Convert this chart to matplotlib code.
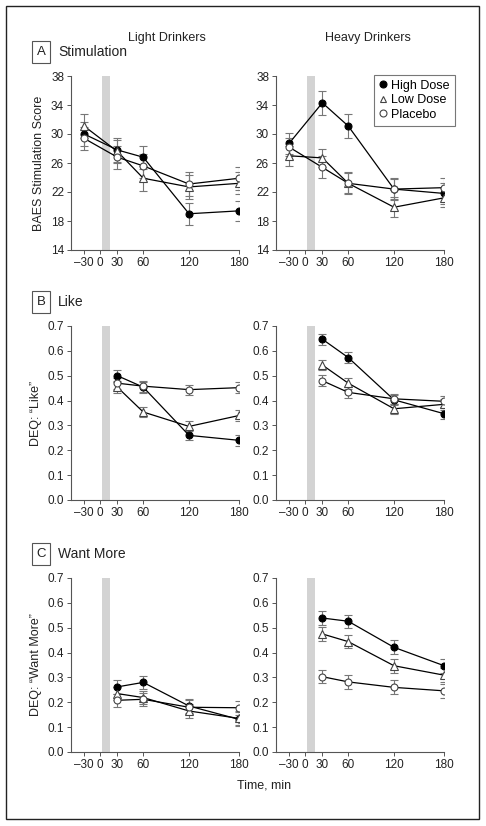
import numpy as np
import matplotlib
matplotlib.use('Agg')
import matplotlib.pyplot as plt
from matplotlib.patches import Rectangle

plt.rcParams['font.family'] = ['Liberation Sans', 'DejaVu Sans']

times = [-30, 30, 60, 120, 180]
groups = ['High Dose', 'Low Dose', 'Placebo']
drink_window = [3, 17]

# Stimulation (BAES), times -30..180
stim_light = {
    'High Dose': [30.0, 27.8, 26.8, 19.0, 19.4],
    'Low Dose': [31.1, 27.6, 23.9, 22.7, 23.2],
    'Placebo': [29.4, 26.8, 25.6, 23.1, 23.9],
}
stim_light_err = {
    'High Dose': [1.6, 1.7, 1.6, 1.5, 1.4],
    'Low Dose': [1.7, 1.6, 1.7, 1.6, 1.5],
    'Placebo': [1.6, 1.6, 1.6, 1.6, 1.6],
}
stim_heavy = {
    'High Dose': [28.7, 34.3, 31.1, 22.4, 21.8],
    'Low Dose': [27.0, 26.7, 23.2, 19.9, 21.2],
    'Placebo': [28.2, 25.4, 23.2, 22.4, 22.6],
}
stim_heavy_err = {
    'High Dose': [1.5, 1.7, 1.6, 1.5, 1.4],
    'Low Dose': [1.4, 1.3, 1.5, 1.4, 1.3],
    'Placebo': [1.3, 1.5, 1.4, 1.4, 1.4],
}

# DEQ Like, times 30..180
like_light = {
    'High Dose': [0.500, 0.454, 0.260, 0.240],
    'Low Dose': [0.454, 0.354, 0.296, 0.340],
    'Placebo': [0.470, 0.458, 0.444, 0.452],
}
like_heavy = {
    'High Dose': [0.647, 0.573, 0.403, 0.347],
    'Low Dose': [0.543, 0.470, 0.367, 0.385],
    'Placebo': [0.480, 0.433, 0.407, 0.397],
}
like_err = [0.022, 0.022, 0.020, 0.022]

# DEQ Want More, times 30..180
want_light = {
    'High Dose': [0.262, 0.280, 0.185, 0.131],
    'Low Dose': [0.235, 0.219, 0.165, 0.135],
    'Placebo': [0.208, 0.212, 0.180, 0.178],
}
want_heavy = {
    'High Dose': [0.539, 0.526, 0.421, 0.347],
    'Low Dose': [0.475, 0.444, 0.347, 0.309],
    'Placebo': [0.303, 0.282, 0.260, 0.246],
}
want_err = [0.027, 0.027, 0.028, 0.028]

styles = {
    'High Dose': dict(marker='o', ms=5, mfc='black', mec='black'),
    'Low Dose': dict(marker='^', ms=6, mfc='white', mec='#444444'),
    'Placebo': dict(marker='o', ms=5, mfc='white', mec='#444444'),
}

# uneven time axis as drawn in the original
knots_t = [-90, -30, 0, 30, 60, 120, 180, 240]
knots_p = [-32, 0, 15.9, 33.3, 59.2, 105, 155.2, 205]


def fwd(x):
    return np.interp(x, knots_t, knots_p)


def inv(p):
    return np.interp(p, knots_p, knots_t)


W, H = 486, 826
fig = plt.figure(figsize=(W / 100, H / 100), dpi=100)
fig.patches.append(Rectangle((6 / W, 1 - 819 / H), 473 / W, 813 / H,
                             transform=fig.transFigure, fill=False,
                             lw=1.0, ec='#222222'))

col_x = [71, 276]
ax_w = 168.2
rows_top = [76, 326, 578]
ax_h = 174

gray = '#555555'


def make_ax(r, c):
    ax = fig.add_axes([col_x[c] / W, 1 - (rows_top[r] + ax_h) / H, ax_w / W, ax_h / H])
    ax.set_xscale('function', functions=(fwd, inv))
    ax.set_xlim(-54.5, 180)
    ax.set_xticks([-30, 0, 30, 60, 120, 180])
    ax.set_xticklabels(['\u201330', '0', '30', '60', '120', '180'])
    for s in ['top', 'right']:
        ax.spines[s].set_visible(False)
    for s in ['left', 'bottom']:
        ax.spines[s].set_color(gray)
        ax.spines[s].set_linewidth(0.8)
    ax.tick_params(colors=gray, labelcolor='#222222', labelsize=8.5, length=3, width=0.7, pad=2)
    ax.axvspan(drink_window[0], drink_window[1], color='#d3d3d3', lw=0, zorder=0)
    return ax


def draw(ax, t, data, err):
    for g in groups:
        e = err[g] if isinstance(err, dict) else err
        ax.errorbar(t, data[g], yerr=e, color='black', lw=0.9, ecolor='#777777',
                    elinewidth=0.8, capsize=3, capthick=0.8, mew=0.8,
                    label=g, **styles[g])


panels = [
    (stim_light, stim_light_err, stim_heavy, stim_heavy_err, times),
    (like_light, like_err, like_heavy, like_err, times[1:]),
    (want_light, want_err, want_heavy, want_err, times[1:]),
]
ylabels = ['BAES Stimulation Score', 'DEQ: \u201cLike\u201d', 'DEQ: \u201cWant More\u201d']
letters = ['A', 'B', 'C']
titles = ['Stimulation', 'Like', 'Want More']
label_y = [52, 302, 554]

axes = []
for r, (dl, el, dh, eh, t) in enumerate(panels):
    for c, (d, e) in enumerate([(dl, el), (dh, eh)]):
        ax = make_ax(r, c)
        draw(ax, t, d, e)
        if r == 0:
            ax.set_ylim(14, 38)
            ax.set_yticks(np.arange(14, 39, 4))
        else:
            ax.set_ylim(0, 0.7)
            ax.set_yticks(np.arange(0, 0.71, 0.1))
            ax.set_yticklabels([f'{v:.1f}' for v in np.arange(0, 0.71, 0.1)])
        if c == 0:
            ax.set_ylabel(ylabels[r], fontsize=9, color='#222222', labelpad=4)
        axes.append(ax)
    fig.text(41 / W, 1 - label_y[r] / H, letters[r], fontsize=9.5, ha='center', va='center',
             color='#222222',
             bbox=dict(boxstyle='square,pad=0.35', fc='none', ec=gray, lw=0.8))
    fig.text(58 / W, 1 - label_y[r] / H, titles[r], fontsize=10, ha='left', va='center',
             color='#222222')

fig.text(167 / W, 1 - 38 / H, 'Light Drinkers', fontsize=9, ha='center', va='center', color='#222222')
fig.text(368 / W, 1 - 38 / H, 'Heavy Drinkers', fontsize=9, ha='center', va='center', color='#222222')
fig.text(264 / W, 1 - 785 / H, 'Time, min', fontsize=9, ha='center', va='center', color='#222222')

h, l = axes[1].get_legend_handles_labels()
h = [hh[0] for hh in h]
leg = axes[1].legend(h, l, loc='upper right', bbox_to_anchor=(1.062, 1.008),
                     fontsize=9, frameon=True, fancybox=False, handlelength=0.7,
                     handletextpad=0.3, borderpad=0.4, labelspacing=0.2,
                     borderaxespad=0)
leg.get_frame().set_edgecolor(gray)
leg.get_frame().set_linewidth(0.8)
for hh in leg.legend_handles:
    hh.set_linestyle('none')
    hh.set_markersize(5)

fig.savefig('out.png', dpi=100)
